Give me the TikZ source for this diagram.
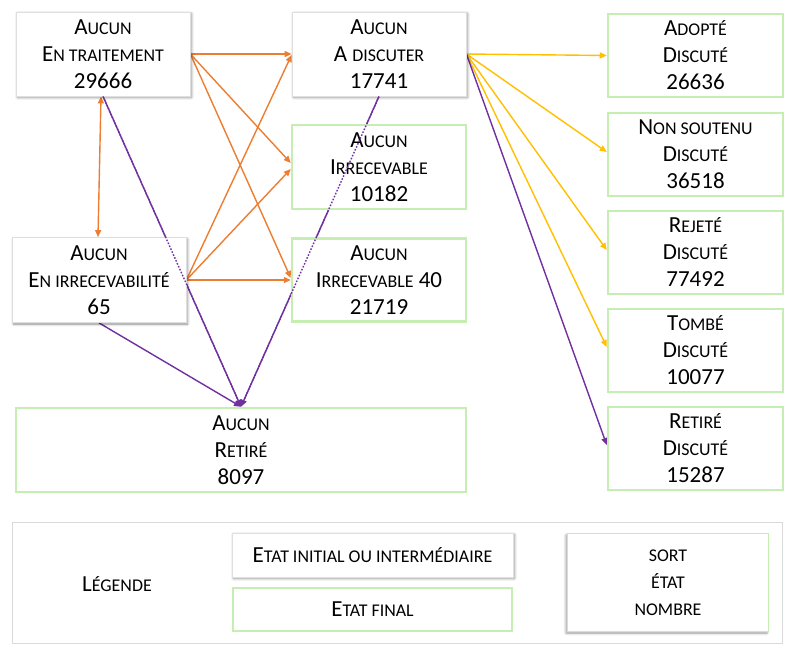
\documentclass[tikz,border=0pt]{standalone}
\usepackage{fontspec}
\setmainfont{Carlito}
\usetikzlibrary{arrows.meta,shadows.blur,calc}
\definecolor{orng}{HTML}{ED7D31}
\definecolor{ylw}{HTML}{FFC000}
\definecolor{prpl}{HTML}{7030A0}
\definecolor{grn}{HTML}{C6EDB2}
\newcommand\sca[1]{{\fontsize{17.9}{27}\selectfont #1}}
\pgfdeclarelayer{background}
\pgfsetlayers{background,main}
\begin{document}
\begin{tikzpicture}[x=1pt,y=-1pt,
 box/.style={rectangle, align=center, inner sep=0pt, fill=white, text=black, font=\fontsize{23}{27}\selectfont},
 gbox/.style={box, draw=gray!25, line width=0.8pt, blur shadow={shadow xshift=1.5pt, shadow yshift=-1.5pt, shadow blur radius=2.5pt, shadow opacity=45}},
 fbox/.style={box, draw=grn, line width=2.5pt},
 conn/.style={line width=1.4pt, -{Triangle[length=7pt,width=6pt]}},
 oarr/.style={conn, draw=orng, color=orng},
 yarr/.style={conn, draw=ylw, color=ylw},
 parr/.style={conn, draw=prpl, color=prpl},
 pdot/.style={draw=prpl, line width=1.4pt, dash pattern=on 1.6pt off 1.6pt, shorten >=8pt},
 legbox/.style={draw=gray!30, line width=0.9pt, rectangle, inner sep=0pt}]
\useasboundingbox (0,0) rectangle (795,652);

% main nodes
\node[gbox, minimum width=174pt, minimum height=84pt] (A) at (103,54) {A\sca{UCUN}\\E\sca{N TRAITEMENT}\\29666};
\node[gbox, minimum width=174pt, minimum height=84pt] (B) at (379,54) {A\sca{UCUN}\\A \sca{DISCUTER}\\17741};
\node[fbox, minimum width=174pt, minimum height=84pt] (C) at (379,167) {A\sca{UCUN}\\I\sca{RRECEVABLE}\\10182};
\node[gbox, minimum width=174pt, minimum height=85pt] (D) at (99,280) {A\sca{UCUN}\\E\sca{N IRRECEVABILITÉ}\\65};
\node[fbox, minimum width=174pt, minimum height=83pt] (E) at (379,280) {A\sca{UCUN}\\I\sca{RRECEVABLE} 40\\21719};
\node[fbox, minimum width=450pt, minimum height=84pt] (F) at (241,450) {A\sca{UCUN}\\R\sca{ETIRÉ}\\8097};

\node[fbox, minimum width=175pt, minimum height=83pt] (R1) at (695.5,55.5) {A\sca{DOPTÉ}\\D\sca{ISCUTÉ}\\26636};
\node[fbox, minimum width=175pt, minimum height=83pt] (R2) at (695.5,154.5) {N\sca{ON SOUTENU}\\D\sca{ISCUTÉ}\\36518};
\node[fbox, minimum width=175pt, minimum height=83pt] (R3) at (695.5,252.5) {R\sca{EJETÉ}\\D\sca{ISCUTÉ}\\77492};
\node[fbox, minimum width=175pt, minimum height=83pt] (R4) at (695.5,350.5) {T\sca{OMBÉ}\\D\sca{ISCUTÉ}\\10077};
\node[fbox, minimum width=175pt, minimum height=83pt] (R5) at (695.5,448.5) {R\sca{ETIRÉ}\\D\sca{ISCUTÉ}\\15287};

% legend
\node[legbox, minimum width=770pt, minimum height=121pt] (L) at (397,582.5) {};
\node[box, fill=none] (Lt) at (117,584) {L\sca{ÉGENDE}};
\node[gbox, minimum width=281pt, minimum height=44pt] (L1) at (372.5,555) {E\sca{TAT INITIAL OU INTERMÉDIAIRE}};
\node[fbox, minimum width=279pt, minimum height=43pt] (L2) at (372.5,609.5) {E\sca{TAT FINAL}};
\node[box, draw=grn, line width=1.5pt, minimum width=201pt, minimum height=98pt,
  blur shadow={shadow xshift=-1.5pt, shadow yshift=-1.5pt, shadow blur radius=2.5pt, shadow opacity=40}] (L3) at (668,582.5) {\sca{SORT}\\\sca{ÉTAT}\\\sca{NOMBRE}};

% connectors
\begin{pgfonlayer}{background}
\draw[oarr] (A.east) -- (B.west);
\draw[oarr] (A.east) -- ([yshift=4pt]C.west);
\draw[oarr] (A.east) -- ([yshift=2pt]E.west);
\draw[oarr, {Triangle[length=7pt,width=6pt]}-{Triangle[length=7pt,width=6pt]}] ([xshift=-2pt]A.south) -- ([xshift=-1pt]D.north);
\draw[oarr] (D.east) -- ([yshift=-1pt]B.west);
\draw[oarr] (D.east) -- ([yshift=-2pt]C.west);
\draw[oarr] (D.east) -- (E.west);
\draw[yarr] (B.east) -- (R1.west);
\draw[yarr] (B.east) -- ([yshift=2.5pt]R2.west);
\draw[yarr] (B.east) -- ([yshift=2.5pt]R3.west);
\draw[yarr] (B.east) -- ([yshift=3.5pt]R4.west);
\draw[parr] (B.east) -- ([yshift=3.5pt]R5.west);
\draw[parr] (A.south) -- (F.north);
\draw[parr] (B.south) -- (F.north);
\draw[parr] (D.south) -- (F.north);
\end{pgfonlayer}
\draw[pdot] (A.south) -- (F.north);
\draw[pdot] (B.south) -- (F.north);
\end{tikzpicture}
\end{document}
